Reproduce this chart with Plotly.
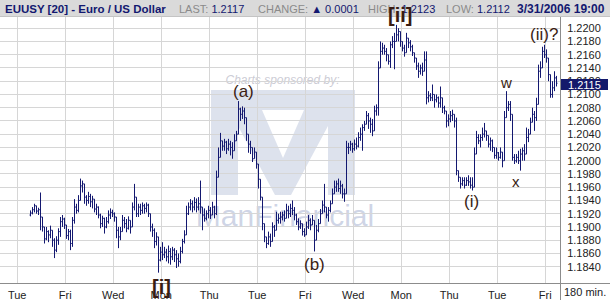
import plotly.graph_objects as go

# ---------------- data ----------------
first_bar = 15          # index of the first 180-min bar on the axis
first_open = 1.1918

closes = [
1.1921,1.1926,1.1932,1.1924,1.1926,1.1915,1.1900,1.1882,1.1893,1.1888,1.1895,1.1880,
1.1865,1.1880,1.1893,1.1908,1.1912,1.1903,1.1887,1.1893,1.1875,1.1910,1.1930,1.1925,
1.1940,1.1962,1.1965,1.1945,1.1940,1.1946,1.1938,1.1942,1.1927,1.1930,1.1918,1.1905,
1.1913,1.1900,1.1908,1.1918,1.1922,1.1920,1.1915,1.1895,1.1885,1.1893,1.1910,1.1905,
1.1898,1.1910,1.1900,1.1930,1.1945,1.1920,1.1930,1.1925,1.1932,1.1928,1.1933,1.1920,
1.1900,1.1895,1.1878,1.1885,1.1850,1.1862,1.1858,1.1862,1.1855,1.1863,1.1855,1.1865,
1.1858,1.1852,1.1848,1.1863,1.1878,1.1888,1.1920,1.1930,1.1935,1.1930,1.1937,1.1930,
1.1935,1.1930,1.1918,1.1913,1.1920,1.1925,1.1918,1.1930,1.1920,1.1975,1.2005,1.2030,
1.2022,1.2028,1.2018,1.2025,1.2020,1.2015,1.2030,1.2040,1.2078,1.2070,1.2075,1.2065,
1.2040,1.2025,1.2020,1.2003,1.2013,1.1995,1.1972,1.1945,1.1905,1.1885,1.1875,1.1885,
1.1878,1.1900,1.1895,1.1910,1.1913,1.1915,1.1918,1.1913,1.1925,1.1920,1.1928,1.1925,
1.1918,1.1908,1.1900,1.1905,1.1893,1.1888,1.1900,1.1910,1.1903,1.1910,1.1880,1.1895,
1.1905,1.1920,1.1933,1.1930,1.1918,1.1925,1.1935,1.1950,1.1960,1.1965,1.1958,1.1962,
1.1950,1.1950,1.2020,1.2020,1.2025,1.2018,1.2025,1.2022,1.2035,1.2040,1.2050,1.2055,
1.2068,1.2060,1.2055,1.2045,1.2075,1.2080,1.2140,1.2165,1.2170,1.2165,1.2160,1.2150,
1.2175,1.2180,1.2180,1.2190,1.2195,1.2180,1.2170,1.2163,1.2185,1.2178,1.2172,1.2163,
1.2155,1.2143,1.2135,1.2140,1.2135,1.2152,1.2095,1.2098,1.2095,1.2100,1.2092,1.2095,
1.2087,1.2095,1.2080,1.2075,1.2060,1.2063,1.2068,1.2070,1.2060,1.1985,1.1975,1.1965,
1.1970,1.1963,1.1970,1.1968,1.1963,1.1960,1.2010,1.2035,1.2030,1.2035,1.2040,1.2045,
1.2038,1.2025,1.2030,1.2020,1.2008,1.2012,1.2005,1.2013,1.2000,1.2065,1.2080,1.2085,
1.2070,1.2005,1.2000,1.2005,1.2000,1.2010,1.2015,1.2010,1.2035,1.2040,1.2058,1.2070,
1.2065,1.2085,1.2135,1.2140,1.2165,1.2160,1.2155,1.2130,1.2100,1.2110,1.2125,1.2117,
]

highs = [
1.1925,1.1930,1.1935,1.1929,1.1929,1.1952,1.1915,1.1898,1.1900,1.1895,1.1902,1.1892,
1.1883,1.1886,1.1898,1.1915,1.1918,1.1914,1.1903,1.1897,1.1896,1.1915,1.1942,1.1935,
1.1948,1.1973,1.1970,1.1965,1.1948,1.1953,1.1950,1.1947,1.1937,1.1935,1.1931,1.1920,
1.1917,1.1914,1.1915,1.1925,1.1928,1.1926,1.1922,1.1912,1.1900,1.1900,1.1918,1.1915,
1.1912,1.1916,1.1910,1.1937,1.1965,1.1940,1.1935,1.1935,1.1937,1.1935,1.1937,1.1935,
1.1915,1.1905,1.1898,1.1892,1.1875,1.1870,1.1877,1.1870,1.1867,1.1872,1.1868,1.1870,
1.1868,1.1865,1.1860,1.1870,1.1882,1.1895,1.1932,1.1937,1.1942,1.1940,1.1945,1.1943,
1.1945,1.1970,1.1925,1.1928,1.1925,1.1932,1.1930,1.1938,1.1932,1.1985,1.2020,1.2042,
1.2030,1.2033,1.2030,1.2033,1.2030,1.2028,1.2040,1.2045,1.2090,1.2080,1.2082,1.2080,
1.2065,1.2033,1.2030,1.2020,1.2020,1.2010,1.1980,1.1965,1.1930,1.1898,1.1885,1.1893,
1.1890,1.1907,1.1903,1.1923,1.1920,1.1923,1.1923,1.1925,1.1935,1.1932,1.1935,1.1940,
1.1930,1.1920,1.1913,1.1910,1.1905,1.1898,1.1908,1.1918,1.1913,1.1918,1.1910,1.1903,
1.1912,1.1927,1.1940,1.1965,1.1930,1.1930,1.1940,1.1958,1.1970,1.1970,1.1973,1.1970,
1.1965,1.1958,1.2030,1.2027,1.2030,1.2027,1.2032,1.2035,1.2043,1.2050,1.2055,1.2060,
1.2075,1.2072,1.2065,1.2063,1.2083,1.2085,1.2150,1.2180,1.2178,1.2175,1.2170,1.2160,
1.2180,1.2188,1.2193,1.2205,1.2200,1.2190,1.2180,1.2175,1.2193,1.2185,1.2182,1.2175,
1.2163,1.2150,1.2148,1.2145,1.2148,1.2165,1.2165,1.2105,1.2102,1.2115,1.2100,1.2100,
1.2097,1.2112,1.2095,1.2083,1.2070,1.2070,1.2075,1.2077,1.2070,1.2065,1.1985,1.1975,
1.1975,1.1975,1.1975,1.1978,1.1975,1.1975,1.2020,1.2045,1.2040,1.2040,1.2050,1.2057,
1.2045,1.2035,1.2035,1.2032,1.2020,1.2020,1.2013,1.2020,1.2008,1.2075,1.2105,1.2090,
1.2090,1.2065,1.2010,1.2010,1.2015,1.2018,1.2020,1.2025,1.2050,1.2048,1.2065,1.2080,
1.2075,1.2095,1.2145,1.2150,1.2172,1.2175,1.2168,1.2150,1.2125,1.2120,1.2135,1.2128,
]

lows = [
1.1916,1.1919,1.1922,1.1920,1.1918,1.1895,1.1893,1.1875,1.1880,1.1877,1.1883,1.1870,
1.1853,1.1862,1.1873,1.1885,1.1900,1.1897,1.1882,1.1880,1.1865,1.1870,1.1905,1.1920,
1.1922,1.1940,1.1952,1.1935,1.1932,1.1935,1.1930,1.1928,1.1922,1.1918,1.1913,1.1898,
1.1900,1.1890,1.1898,1.1905,1.1912,1.1915,1.1908,1.1883,1.1868,1.1880,1.1893,1.1898,
1.1892,1.1896,1.1890,1.1900,1.1925,1.1915,1.1915,1.1918,1.1920,1.1920,1.1922,1.1915,
1.1893,1.1885,1.1868,1.1872,1.1831,1.1848,1.1850,1.1853,1.1848,1.1845,1.1843,1.1850,
1.1847,1.1838,1.1840,1.1845,1.1860,1.1875,1.1890,1.1918,1.1925,1.1922,1.1925,1.1922,
1.1925,1.1920,1.1895,1.1908,1.1910,1.1913,1.1912,1.1918,1.1913,1.1918,1.1985,1.2015,
1.2015,1.2015,1.2010,1.2015,1.2008,1.2003,1.2018,1.2030,1.2050,1.2060,1.2063,1.2055,
1.2030,1.2012,1.2010,1.1998,1.2005,1.1988,1.1958,1.1940,1.1895,1.1877,1.1868,1.1873,
1.1870,1.1888,1.1885,1.1898,1.1905,1.1905,1.1910,1.1908,1.1915,1.1913,1.1915,1.1918,
1.1910,1.1903,1.1895,1.1897,1.1887,1.1885,1.1893,1.1897,1.1895,1.1905,1.1863,1.1885,
1.1892,1.1908,1.1920,1.1922,1.1913,1.1908,1.1922,1.1937,1.1950,1.1953,1.1953,1.1950,
1.1943,1.1938,1.1955,1.2010,1.2015,1.2012,1.2015,1.2017,1.2020,1.2030,1.2015,1.2045,
1.2058,1.2048,1.2042,1.2037,1.2060,1.2068,1.2068,1.2140,1.2160,1.2160,1.2150,1.2145,
1.2140,1.2170,1.2138,1.2183,1.2180,1.2172,1.2165,1.2157,1.2175,1.2170,1.2165,1.2158,
1.2148,1.2137,1.2125,1.2130,1.2128,1.2140,1.2085,1.2088,1.2090,1.2090,1.2080,1.2088,
1.2080,1.2080,1.2072,1.2070,1.2050,1.2052,1.2058,1.2060,1.2050,1.1978,1.1968,1.1958,
1.1962,1.1958,1.1962,1.1962,1.1958,1.1955,1.1975,1.2020,1.2025,1.2020,1.2030,1.2035,
1.2030,1.2020,1.2015,1.2013,1.2003,1.2003,1.2000,1.2003,1.1990,1.2000,1.2065,1.2075,
1.2060,1.2000,1.1995,1.1997,1.1995,1.1985,1.2000,1.2000,1.2025,1.2028,1.2045,1.2060,
1.2045,1.2060,1.2110,1.2125,1.2150,1.2155,1.2148,1.2120,1.2095,1.2095,1.2105,1.2112,
]

day_labels = ["Tue", "Fri", "Wed", "Mon", "Thu", "Tue", "Fri", "Wed", "Mon", "Thu", "Tue", "Fri"]
first_label_bar = 8.35   # bar index where the first labelled day starts
bars_per_label = 24      # 3 trading days x 8 bars of 180 min

price_ticks = [1.1840, 1.1860, 1.1880, 1.1900, 1.1920, 1.1940, 1.1960, 1.1980, 1.2000,
               1.2020, 1.2040, 1.2060, 1.2080, 1.2100, 1.2120, 1.2140, 1.2160, 1.2180, 1.2200]

header_last = "1.2117"
header_change = "0.0001"
header_high = "1.2123"
header_low = "1.2112"
header_date = "3/31/2006 19:00"
tag_price = 1.2115

waves = [  # (label, bar index, price, kind)
    ("(a)", 121.5, 1.2105, "mid"),
    ("(b)", 157.0, 1.1844, "mid"),
    ("(i)", 235.5, 1.1938, "mid"),
    ("(ii)?", 271.5, 1.2190, "mid"),
    ("w", 252.5, 1.2118, "small"),
    ("x", 257.5, 1.1969, "small"),
]
degree_labels = ["[ii]", "[i]"]   # labels sitting on the header / x axis band

# ---------------- derived ----------------
n = len(closes)
xs = [first_bar + i for i in range(n)]
opens = [first_open] + closes[:-1]
highs_c = [max(h, o, c) for h, o, c in zip(highs, opens, closes)]
lows_c = [min(l, o, c) for l, o, c in zip(lows, opens, closes)]
tickvals_x = [first_label_bar + bars_per_label * k for k in range(len(day_labels))]

W, H = 610, 300
ML, MR, MT, MB = 0, 50, 17, 17
PW, PH = W - ML - MR, H - MT - MB

def px(x):
    return (x - ML) / PW

def py(y):
    return (H - MB - y) / PH

YLO, YHI = 1.18154, 1.22169
step = (YHI - YLO) / PH  # price per pixel

NAVY = "#131870"
BROWN = "#3a1c12"
GRID = "#d6d6d6"
FONT = "Liberation Sans, Arial, sans-serif"
WM = "rgba(150,165,200,0.32)"

fig = go.Figure()
fig.add_trace(go.Ohlc(
    x=xs, open=opens, high=highs_c, low=lows_c, close=closes,
    increasing=dict(line=dict(color=NAVY, width=1)),
    decreasing=dict(line=dict(color=NAVY, width=1)),
    tickwidth=0.5, hoverinfo="skip", showlegend=False,
))

def poly(pts):
    return "M " + " L ".join(f"{px(a):.5f},{py(b):.5f}" for a, b in pts) + " Z"

shapes = []
# watermark logo (M)
for pts in [
    [(211, 90), (238, 90), (238, 195), (211, 195)],
    [(328, 90), (355, 90), (355, 195), (328, 195)],
    [(238, 90), (328, 90), (328, 110), (238, 110)],
    [(238, 110), (262, 110), (283, 158), (304, 110), (328, 110), (328, 126), (291, 195),
     (275, 195), (238, 126)],
]:
    shapes.append(dict(type="path", xref="paper", yref="paper", path=poly(pts),
                       fillcolor=WM, line=dict(width=0), layer="below"))
shapes.append(dict(type="rect", xref="paper", yref="paper", x0=px(200), x1=px(370), y0=py(228), y1=py(196),
                   fillcolor="rgba(0,0,0,0)", line=dict(width=0), layer="below",
                   label=dict(text="ManFinancial", textposition="middle center",
                              font=dict(size=30, color="rgba(165,176,208,0.55)", family=FONT))))
shapes.append(dict(type="rect", xref="paper", yref="paper", x0=px(215), x1=px(350), y0=py(86), y1=py(71),
                   fillcolor="rgba(0,0,0,0)", line=dict(width=0), layer="below",
                   label=dict(text="<i>Charts sponsored by:</i>", textposition="middle center",
                              font=dict(size=12, color="rgba(190,190,202,0.8)", family=FONT))))
# header band
shapes.append(dict(type="rect", xref="paper", yref="paper", x0=0, x1=W / PW, y0=1, y1=py(0),
                   fillcolor="#dadada", line=dict(width=0), layer="above"))
shapes.append(dict(type="line", xref="paper", yref="paper", x0=0, x1=W / PW, y0=py(16.5), y1=py(16.5),
                   line=dict(color="#c4c4c4", width=1), layer="above"))
# axis frame
shapes.append(dict(type="line", xref="paper", yref="paper", x0=0, x1=W / PW, y0=py(283.5), y1=py(283.5),
                   line=dict(color="#8c8c8c", width=1), layer="above"))
shapes.append(dict(type="line", xref="paper", yref="paper", x0=px(560.5), x1=px(560.5), y0=py(H), y1=py(17),
                   line=dict(color="#8c8c8c", width=1), layer="above"))
# last price tag
shapes.append(dict(type="rect", xref="paper", yref="y", x0=px(561), x1=px(608),
                   y0=tag_price - 5.5 * step, y1=tag_price + 5.5 * step,
                   fillcolor="#14196b", line=dict(width=0), layer="above"))

ann = []
def hdr(x, text, anchor="left", size=11, color=NAVY):
    ann.append(dict(xref="paper", yref="paper", x=px(x), y=py(9), text=text, showarrow=False,
                    xanchor=anchor, yanchor="middle", font=dict(size=size, family=FONT, color=color)))

hdr(3, "<b>EUUSY [20] - Euro / US Dollar</b>", size=11.5)
G = "#8a8a8a"
hdr(177, f"<span style='color:{G}'>LAST:</span> {header_last}")
hdr(256, f"<span style='color:{G}'>CHANGE:</span> ▲ {header_change}")
hdr(366, f"<span style='color:{G}'>HIGH:</span> {header_high}")
hdr(444, f"<span style='color:{G}'>LOW:</span> {header_low}")
hdr(607, f"<b>{header_date}</b>", anchor="right", size=12)

ann.append(dict(xref="paper", yref="paper", x=px(585), y=py(292), text="180 min.", showarrow=False,
                xanchor="center", yanchor="middle", font=dict(size=11, family=FONT, color="#222")))
ann.append(dict(xref="paper", yref="y", x=px(584.5), y=tag_price, text=f"{tag_price:.4f}", showarrow=False,
                xanchor="center", yanchor="middle", font=dict(size=11, family=FONT, color="white")))

sizes = {"mid": 17, "small": 15}
for label, bx, pr, kind in waves:
    ann.append(dict(x=bx, y=pr, xref="x", yref="y", text=label, showarrow=False,
                    xanchor="center", yanchor="middle",
                    font=dict(size=sizes[kind], family=FONT, color=BROWN)))
for label, (cx, cy) in zip(degree_labels, [(400, 15), (161, 287)]):
    ann.append(dict(x=px(cx), y=py(cy), xref="paper", yref="paper", text=f"<b>{label}</b>",
                    showarrow=False, xanchor="center", yanchor="middle",
                    font=dict(size=20, family=FONT, color=BROWN)))

fig.update_layout(
    width=W, height=H, margin=dict(l=ML, r=MR, t=MT, b=MB, pad=0),
    paper_bgcolor="white", plot_bgcolor="white",
    shapes=shapes, annotations=ann, showlegend=False,
    xaxis=dict(range=[-0.25, PW / 2 - 0.25], tickvals=tickvals_x, ticktext=day_labels,
               showgrid=True, gridcolor=GRID, gridwidth=1, zeroline=False,
               ticks="outside", ticklen=2, tickcolor="rgba(0,0,0,0)",
               tickfont=dict(size=11, family=FONT, color="#222"),
               rangeslider=dict(visible=False), fixedrange=True, showline=False),
    yaxis=dict(range=[YLO, YHI], side="right", tickvals=price_ticks, tickformat=".4f",
               showgrid=True, gridcolor=GRID, gridwidth=1, zeroline=False,
               ticks="outside", ticklen=4, tickcolor="rgba(0,0,0,0)",
               tickfont=dict(size=11, family=FONT, color="#222"), fixedrange=True, showline=False),
)

fig.write_html("out.html")
